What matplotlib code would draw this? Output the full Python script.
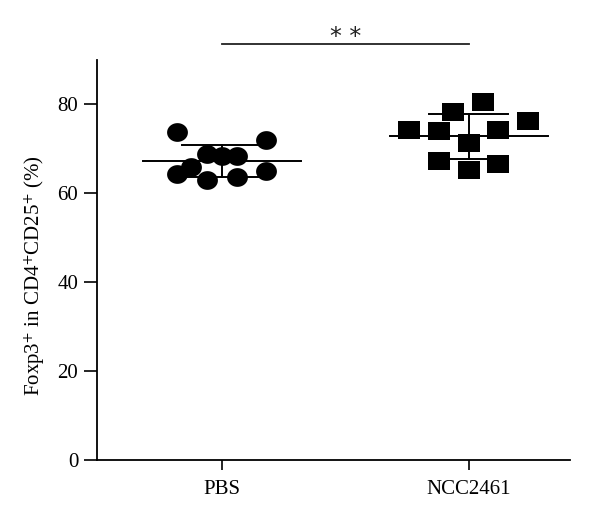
import numpy as np
import matplotlib
matplotlib.use("Agg")
import matplotlib.pyplot as plt
from matplotlib.path import Path

plt.rcParams["font.family"] = ["Liberation Serif", "DejaVu Serif"]
plt.rcParams["mathtext.fontset"] = "stix"

# Groups and values
groups = ["PBS", "NCC2461"]

pbs_values = [73.8, 71.9, 68.9, 68.3, 68.3, 65.9, 64.4, 62.9, 63.7, 65.0]
pbs_offsets = [-0.18, 0.18, -0.06, 0.0, 0.06, -0.125, -0.18, -0.06, 0.06, 0.18]

ncc_values = [80.5, 78.3, 76.2, 74.3, 74.0, 74.3, 71.4, 67.2, 65.2, 66.7]
ncc_offsets = [0.057, -0.065, 0.24, -0.243, -0.12, 0.117, 0.0, -0.12, 0.0, 0.117]

y_ticks = [0, 20, 40, 60, 80]
sig_label = "* *"

# slightly squashed markers, as in the reference
t = np.linspace(0, 2 * np.pi, 60)
ellipse = Path(np.column_stack([np.cos(t), 0.9 * np.sin(t)]), closed=True)
rect = Path([(-1, -0.82), (1, -0.82), (1, 0.82), (-1, 0.82), (-1, -0.82)], closed=True)

fig = plt.figure(figsize=(6.0, 5.22), dpi=100)
ax = fig.add_axes([0.1617, 0.1188, 0.7883, 0.7662])

series = [
    (1, pbs_values, pbs_offsets, ellipse, 15.0),
    (2, ncc_values, ncc_offsets, rect, 15.6),
]
for pos, vals, offs, marker, size in series:
    vals = np.array(vals)
    xs = pos + np.array(offs)
    ax.plot(xs, vals, linestyle="none", marker=marker, markersize=size,
            color="black", markeredgewidth=0, zorder=3, clip_on=False)
    mean = vals.mean()
    sd = vals.std(ddof=1)
    ax.plot([pos - 0.32, pos + 0.32], [mean, mean], color="black", lw=1.4, zorder=2)
    ax.plot([pos - 0.16, pos + 0.16], [mean + sd, mean + sd], color="black", lw=1.4, zorder=2)
    ax.plot([pos - 0.16, pos + 0.16], [mean - sd, mean - sd], color="black", lw=1.4, zorder=2)
    ax.plot([pos, pos], [mean - sd, mean + sd], color="black", lw=1.4, zorder=2)

# significance bar
ax.plot([1, 2], [93.5, 93.5], color="#222222", lw=1.3, clip_on=False)
ax.text(1.5, 93.7, sig_label, ha="center", va="baseline", fontsize=17,
        family="DejaVu Sans", color="#222222")

ax.set_xlim(0.494, 2.41)
ax.set_ylim(0, 90)
ax.set_xticks([1, 2])
ax.set_xticklabels(groups, fontsize=15)
ax.set_yticks(y_ticks)
ax.set_yticklabels([str(t) for t in y_ticks], fontsize=15)
ax.tick_params(axis="x", length=7.5, width=1.2, pad=7)
ax.tick_params(axis="y", length=9.5, width=1.2, pad=4)

for side in ["top", "right"]:
    ax.spines[side].set_visible(False)
for side in ["left", "bottom"]:
    ax.spines[side].set_linewidth(1.3)

ax.set_ylabel("Foxp3$^{+}$ in CD4$^{+}$CD25$^{+}$ (%)", fontsize=15, va="center")
ax.yaxis.set_label_coords(-0.131, 0.46)

fig.savefig("out.png", dpi=100)
